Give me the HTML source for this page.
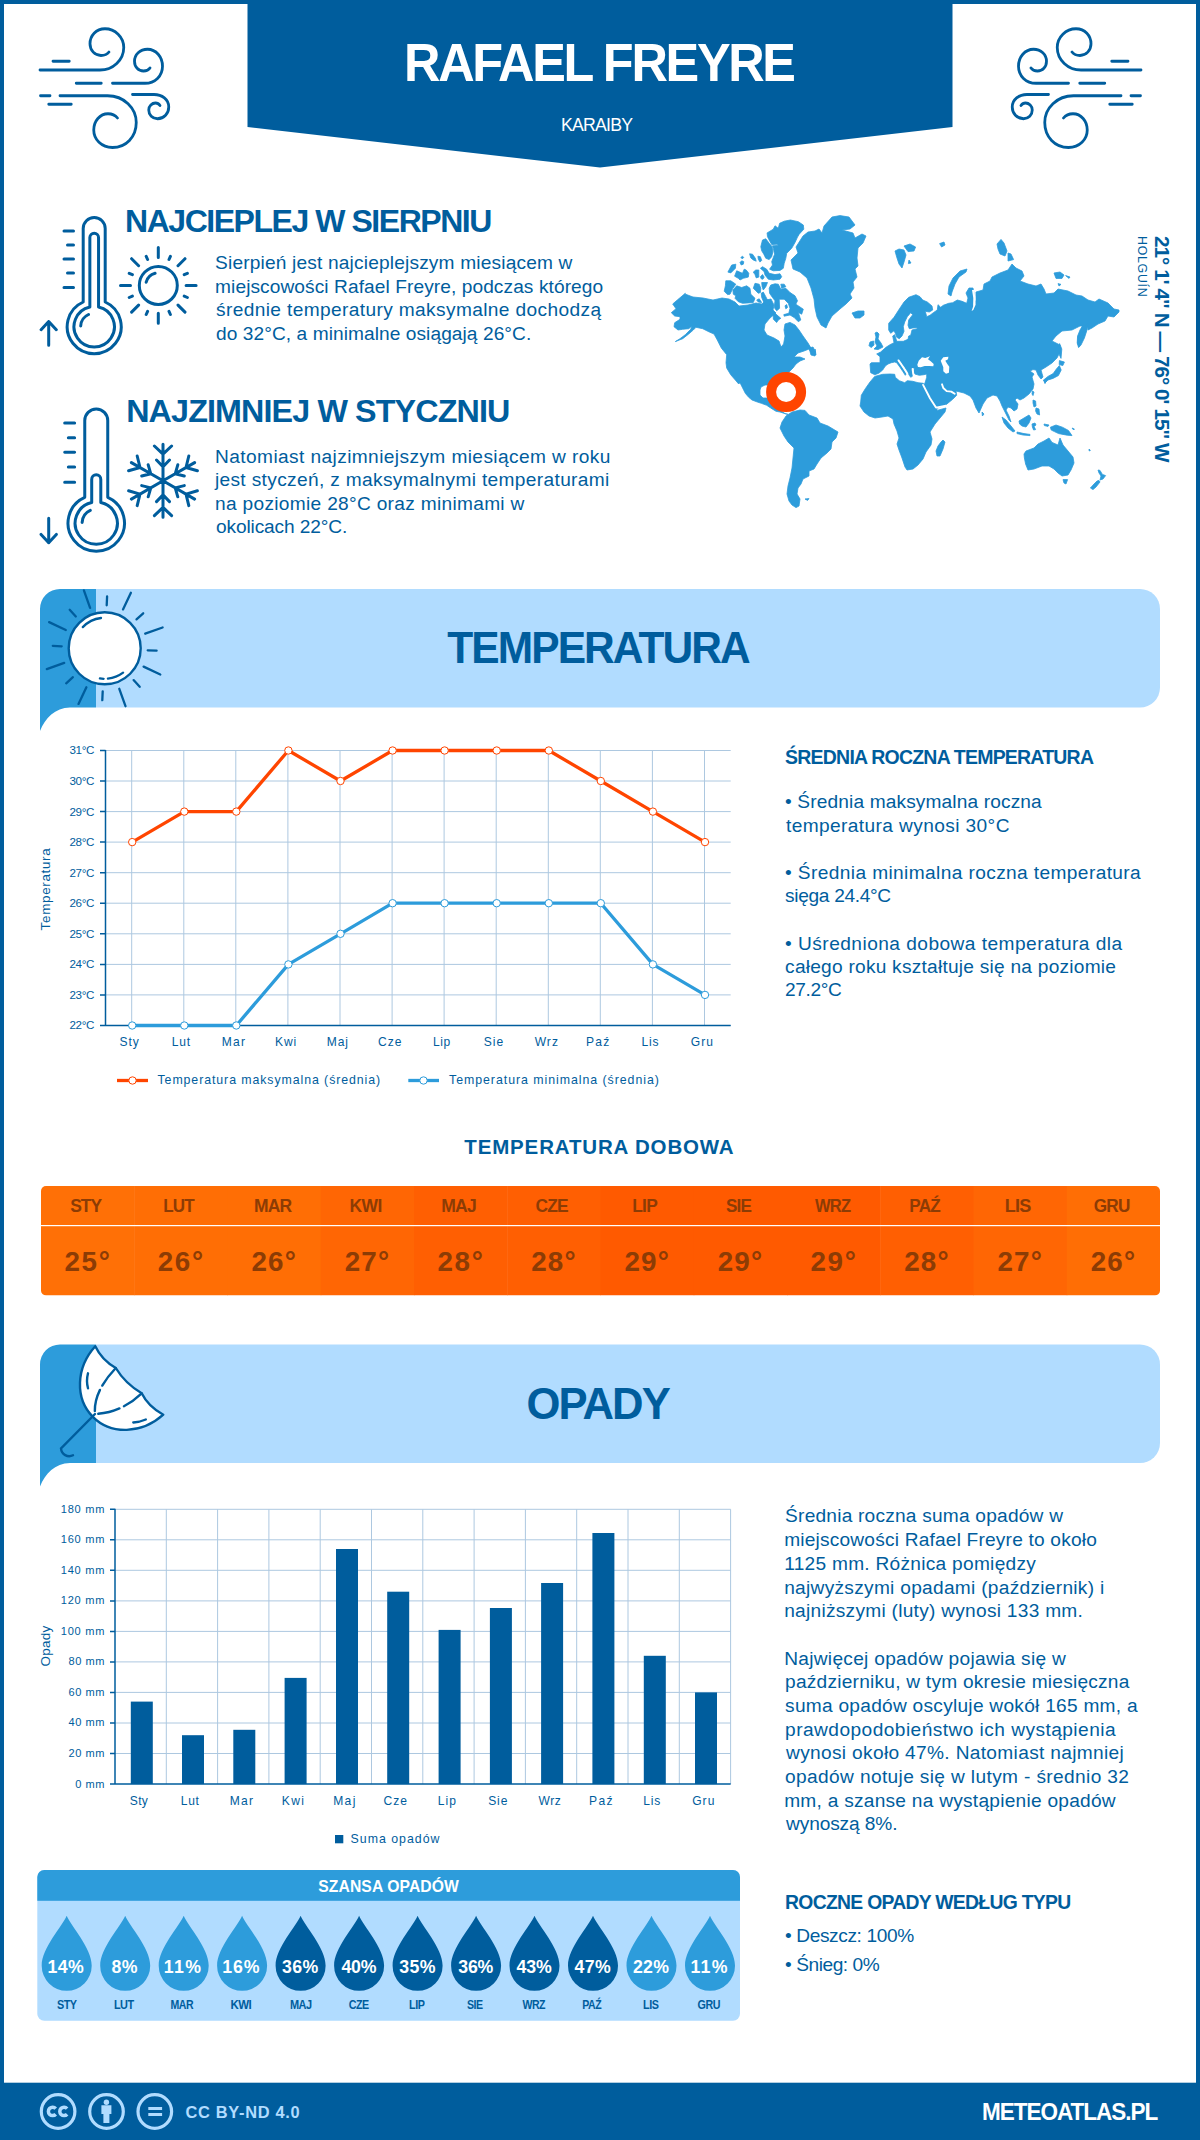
<!DOCTYPE html><html><head><meta charset="utf-8"><title>Rafael Freyre</title><style>
html,body{margin:0;padding:0;width:1200px;height:2140px;overflow:hidden}body{position:relative;background:#fff;font-family:"Liberation Sans",sans-serif}#pg{position:absolute;left:0;top:0;width:1200px;height:2140px;overflow:hidden}
#bd{position:absolute;left:0;top:0;width:1192px;height:2132px;border:4px solid #005d9d;z-index:5;pointer-events:none}
svg{position:absolute;left:0;top:0}
.t{position:absolute;white-space:nowrap;line-height:1;margin:0}
</style></head><body><div id="pg">
<svg width="1200" height="2140" viewBox="0 0 1200 2140">
<path fill="#005d9d" d="M247.5,0H952.5V127L600,167.5L247.5,127Z"/>
<path d="M40,70H100C113,70 123.75,60 123.75,47.5C123.75,37 115,28.75 105,28.75C96,28.75 90,35.5 90,43.75C90,50.5 95,55.5 101,55.5C104.5,55.5 107.5,54 109,52M53,61.25H69.25M112.5,83.25H145C155,83.25 162.5,76 162.5,66.25C162.5,57 156,49.25 147.5,49.25C140,49.25 134.5,54.5 134.5,61.25C134.5,67 138.5,71 143.5,71C146.5,71 149,69.5 150,68M76.25,83.25H101.25M40.5,95.75H50M60,95.75H107.5C124,95.75 136.25,108 136.25,122.5C136.25,137 126,147.5 112.5,147.5C101.5,147.5 93.75,139.5 93.75,130C93.75,121 100,113.75 108,113.75C112,113.75 115.5,115.5 117.5,118M48.75,104.25H71.25M132.5,94.5H154C162,94.5 168.75,99.5 168.75,107C168.75,113.5 164,118.75 157.5,118.75C152.5,118.75 148.75,115 148.75,110C148.75,106 152,103 155.5,103C157.5,103 159,104 160,105.5" fill="none" stroke="#005d9d" stroke-width="2.8" stroke-linecap="round"/>
<path d="M40,70H100C113,70 123.75,60 123.75,47.5C123.75,37 115,28.75 105,28.75C96,28.75 90,35.5 90,43.75C90,50.5 95,55.5 101,55.5C104.5,55.5 107.5,54 109,52M53,61.25H69.25M112.5,83.25H145C155,83.25 162.5,76 162.5,66.25C162.5,57 156,49.25 147.5,49.25C140,49.25 134.5,54.5 134.5,61.25C134.5,67 138.5,71 143.5,71C146.5,71 149,69.5 150,68M76.25,83.25H101.25M40.5,95.75H50M60,95.75H107.5C124,95.75 136.25,108 136.25,122.5C136.25,137 126,147.5 112.5,147.5C101.5,147.5 93.75,139.5 93.75,130C93.75,121 100,113.75 108,113.75C112,113.75 115.5,115.5 117.5,118M48.75,104.25H71.25M132.5,94.5H154C162,94.5 168.75,99.5 168.75,107C168.75,113.5 164,118.75 157.5,118.75C152.5,118.75 148.75,115 148.75,110C148.75,106 152,103 155.5,103C157.5,103 159,104 160,105.5" fill="none" stroke="#005d9d" stroke-width="2.8" stroke-linecap="round" transform="translate(1181,0) scale(-1,1)"/>
<path d="M-11,84.5V11A11,11 0 0 1 11,11V84.5A27,27 0 1 1 -11,84.5ZM-4.35,89.5V20.049999999999997A4.35,4.35 0 0 1 4.35,20.049999999999997V89.5A20.2,20.2 0 1 1 -4.35,89.5ZM-13.5,108.5A13.5,13.5 0 0 1 -5.7,97.0M-30.2,13.5H-20.7M-26.7,27.5H-20.7M-30.2,41.5H-20.7M-26.7,55.5H-20.7M-30.2,70H-20.7M-45.5,127.7V104M-53.1,112.2L-45.5,104L-37.9,112.2" fill="none" stroke="#005d9d" stroke-width="3.00" stroke-linecap="round" stroke-linejoin="round" transform="translate(94.2,217.5) scale(1.0)"/>
<path d="M-11,84.5V11A11,11 0 0 1 11,11V84.5A27,27 0 1 1 -11,84.5ZM-4.35,89.5V67.35A4.35,4.35 0 0 1 4.35,67.35V89.5A20.2,20.2 0 1 1 -4.35,89.5ZM-13.5,108.5A13.5,13.5 0 0 1 -5.7,97.0M-30.2,13.5H-20.7M-26.7,27.5H-20.7M-30.2,41.5H-20.7M-26.7,55.5H-20.7M-30.2,70H-20.7M-45.5,104.5V127.9M-52.8,120L-45.5,127.9L-38.2,120" fill="none" stroke="#005d9d" stroke-width="2.87" stroke-linecap="round" stroke-linejoin="round" transform="translate(96.25,409) scale(1.045)"/>
<path d="M139.3,285.4a19,19 0 1 0 38,0a19,19 0 1 0 -38,0M146.2,282.2A12.5,12.5 0 0 1 155.1,273.3M186.1,285.4L196.1,285.4M184.2,296.1L187.4,297.5M178.0,305.1L185.0,312.1M169.0,311.3L170.4,314.5M158.3,313.2L158.3,323.2M147.6,311.3L146.2,314.5M138.6,305.1L131.6,312.1M132.4,296.1L129.2,297.5M130.5,285.4L120.5,285.4M132.4,274.7L129.2,273.3M138.6,265.7L131.6,258.7M147.6,259.5L146.2,256.3M158.3,257.6L158.3,247.6M169.0,259.5L170.4,256.3M178.0,265.7L185.0,258.7M184.2,274.7L187.4,273.3" fill="none" stroke="#005d9d" stroke-width="3" stroke-linecap="round"/>
<path d="M163,480.8L163.0,444.3M154.4,446.0L163.0,454.2L171.6,446.0M156.5,460.0L163.0,466.7L169.5,460.0M163,480.8L194.6,462.6M188.8,456.0L186.0,467.5L197.4,470.8M177.8,464.8L175.2,473.8L184.3,476.0M163,480.8L194.6,499.1M197.4,490.8L186.0,494.1L188.8,505.6M184.3,485.6L175.2,487.9L177.8,496.8M163,480.8L163.0,517.3M171.6,515.6L163.0,507.4L154.4,515.6M169.5,501.6L163.0,494.9L156.5,501.6M163,480.8L131.4,499.1M137.2,505.6L140.0,494.1L128.6,490.8M148.2,496.8L150.8,487.9L141.7,485.6M163,480.8L131.4,462.6M128.6,470.8L140.0,467.5L137.2,456.0M141.7,476.0L150.8,473.8L148.2,464.8" fill="none" stroke="#005d9d" stroke-width="3" stroke-linecap="round" stroke-linejoin="round"/>
<path fill="#2d9cdb" stroke="#2d9cdb" stroke-width="0.8" stroke-linejoin="round" d="M685,294 693,297 703,298 713,300 722,298 729,299 735,302 739,306 748,305 756,303 762,304 766,300 771,299 774,305 773,310 776,313 770,318 765,324 764,330 767,335 774,338 779,341 781,347 783.6,344 785,336 784,330 785,324 790,322.4 795,325 799,330 803,336 808,343 811,348 815,353 815,349 816,355 812,354 809,349 804,351 798,353 794,357 800,357 805,359 800,361 796,364 793,368 789,372 786,375 784,379 785,385 788,390 789,395 787,394 784,388 781,385 776,384.4 770,385 765,385 761,387 760,390 760,395 763,398 767,398 770,396 773,397 772,401 773,405 777,408 781,411 785,413.6 788,414.4 784,413.3 780,412 776,411.3 770.7,408 766.7,405.3 761.3,403.3 757.3,402 752,400 748.7,397.3 745.3,393.3 740,382.7 738.7,384 735.3,380 730.7,374.7 726.7,368 726,362.7 726.7,354.7 721.3,348 717.3,340 714,334 709.3,332 702.7,328.7 696,327.3 693.3,330 688.7,334 682.7,338.7 675.3,341.6 680,338.7 685.3,334.7 690.7,329.3 692,326 688.7,328.7 682.7,329.3 678,330 674,326.7 674.7,322.7 680,319.3 680,316.7 674.7,316 671.3,312.7 676,308.7 672.7,304 677.3,300 685.3,293.3Z M767.1,232.9 773.3,229.2 775,225.8 778.3,228.3 779.6,223.3 784.2,221.2 790.4,220 798.3,221.7 803.3,225 803.8,229.2 799.2,234.2 797.5,237.1 795,242.5 791.7,248.3 786.7,253.3 785.8,258.3 784.2,263.3 783.3,268.3 780,270.4 773.3,270.8 769.6,269.2 772.5,265 771.7,261.7 774.6,254.2 773.3,248.3 772.5,245.8 778.3,245.4 777.1,244.2 771.7,244.6 769.2,240 767.5,236.7Z M760.8,246.7 762.5,240 765.8,238.8 769.2,243.3 772.1,246.7 772.9,251.7 771.7,256.7 769.2,259.6 765.8,258.3 763.8,254.2 761.7,250.8Z M760.4,268.3 762.5,266.7 766.7,269.2 769.2,273.3 775,274.6 780,273.8 781.7,276.7 780,279.2 773.3,280 768.3,279.2 765,275 764.2,271.7Z M769.2,288.3 770.8,285 775,283.8 778.3,284.2 780.8,289.2 785.8,288.3 790,292.5 795,295.8 797.5,300.8 795.8,304.2 803.3,309.2 801.7,314.2 798.3,312.5 800.8,320 798.3,321.7 794.2,317.5 790,315 784.2,316.2 783.8,314.6 788.8,313.3 790,308.3 788.3,303.3 784.2,299.2 779.2,299.2 779.6,308.3 776.7,310.8 774.2,307.5 775,300.8 772.5,297.5 769.6,293.3Z M780.8,284.2 784.2,284.2 785.8,286.7 781.7,288.3Z M732.9,290 736.7,285.8 741.7,287.5 746.7,285.8 750,288.3 750.8,294.2 755,298.3 753.3,302.5 748.3,302.9 742.5,303.3 738.3,301.7 735,298.3 735.8,295.8 733.3,294.2Z M725.8,280.8 730.8,280.8 735.8,284.2 732.9,288.3 730,294.2 727.5,294.6 724.2,291.2 725.4,285.8Z M734.6,276.2 736.7,270.8 742.5,273.3 744.2,269.2 746.2,270 748.8,273.3 748.3,277.1 743.3,278.3 740,280 738.3,278.3Z M727.9,272.1 731.7,265 735.8,264.2 735.4,268.3 730.8,272.9Z M740,262.5 741.7,260.8 743.8,261.7 743.3,264.2 741.2,265Z M740.8,257.5 742.5,256.2 743.8,257.5 742.1,258.8Z M753.3,272.1 755.8,270 758.8,270 758.8,277.1 756.2,277.9 755,274.6Z M760.4,276.7 762.5,274.6 764.2,277.1 762.9,279.2 761.2,278.8Z M749.6,253.8 752.5,254.2 755.4,258.3 756.2,261.2 753.3,260 750.8,257.9Z M757.9,256.2 760.4,256.7 761.7,260.4 760,262.1 758.3,259.2Z M753.3,288.3 755,283.3 759.2,284.2 760.8,288.3 760.4,292.5 758.3,293.3 755.8,290.8Z M761.7,282.5 767.5,282.5 765.8,286.7 763.3,290 762.1,286.7Z M761.2,293.3 763.3,292.1 765.8,296.7 768.3,301.7 769.2,305 765,305 761.7,297.5Z M756.7,300 759.2,298.8 761.7,302.5 758.3,302.1Z M773.3,313.8 775,313.3 780.8,318.3 778.3,320 776.7,322.5 773.3,319.2Z M785,305.8 786.7,304.6 787.5,307.5 785.8,308.8Z M809,348 813,347 815.6,352 815,356 811,355Z M824,226 832,217 840,215.6 849,217 855,225 850,229 842,230 853,233 855,238 862,234 866,236 863,243 858,248 857,258 858,266 855,269 857,277 853,282 854,288 850,294 852,298 846,304 840,309 832,316 828,323 826,328 821,325 817,317 815,308 814,299 811,288 807,278 800,272 793,269 791,260 798,253 796,247 803,236 808,232 815,231 819,229 822,233Z M852,313 858,311 864,311 864,315 860,318 855,318Z M780,428 782,422 786,416 792,412 800,410 805,410.4 809,415 817,418 820,423 828,426 838,432 836,438 832,442 831,449 827,453 821,458 817,464 814,469 809,471 809,476 803,479 801,484 798,488 797,494 800,499 799,506 796,507.6 792,505 789,501 787,494 788,486 790,478 792,468 793,458 794,448 788,442 784,436Z M805,499 809,498.6 807.6,500.4Z M874.7,376.4 882.7,374.3 890,374 894.7,374.3 895.3,377.3 899.3,380.7 904.7,382.7 907.3,380.7 912.7,381.3 918,382.7 923.3,383.3 924.4,385.3 930,398.3 935.3,407.1 936.9,409.1 937,410.4 946,408 945,412 940,418 935,424 930,432 932,439 931,445 926,452 923,459 918,465 913,469 907,470 905,467 902,458 899,450 897,444 899,438 897,431 894,424 893,419 888,416 882,417 875,418 869,416 864,412 860,406 860.7,402 861.3,395.3 865.3,388.7 870,382Z M943,440 945,442 943,449 940,456 937,456 936,451 938,446 941,442Z M870.7,372.7 870,364 871.3,362.7 880,362.7 880,356.7 876.7,354 880.7,352 886,347.3 890,344.7 894,342.7 892.7,336 894.7,334.7 896,338.7 896.7,341.3 903.3,341.3 908,339.3 908.7,336 910.7,335.3 912,330 917.3,328.7 916.7,327.7 912.7,328 909.3,328.7 908,325.3 908.7,320 912.7,314.7 910.7,312.7 907.3,316.7 904.7,322 903.3,326.7 904,331.3 902,336 899.3,338.7 896.7,337.3 895.3,333.3 894,330.7 890.7,333.3 888.7,330 888.7,323.3 894,317.3 898.7,310 904,302 908.7,297.3 916,294.7 920,296.7 922.7,300 927.3,302 932,306 932.7,310 929.3,312 925.3,311.3 926.7,316.7 930,315.3 933.3,312.7 937.3,310 938,304.7 940.7,307.3 943.3,305.3 948.7,303.3 952.7,302.7 957.3,300 962,301.3 966.7,303.3 968,298 966,293 969,288 973,288 974,294 973,304 973,310 976,300 976,292 983,290 984,284 990,281 992,277 1000,273 1008,270 1012,264 1016,268 1022,271 1024,276 1020,281 1028,284 1036,286 1041,284 1044,289 1046,294 1054,293 1058,289 1068,291 1076,295 1082,296 1088,300 1095,302 1099,299 1108,303 1114,309 1119,310 1119,312 1114,317 1108,316 1105,321 1098,324 1092,328 1088,330 1087,323 1084,330 1081,337 1079,347 1077.6,343 1078,337 1081,331 1083,326 1080,326 1072,330 1062,331 1056,336 1052,341 1056,343 1060,345 1060,352 1057,358 1052,363 1046,367 1041,370 1043,377 1041,379 1038,375 1036,370 1033,369.6 1030,371 1034,374 1032,377 1034,384 1033,389 1029,394 1024,398 1020,400 1017,398 1015,400 1018,404 1017,409 1014,411 1011,408 1008,407 1006,410 1009,416 1011,422 1009,420 1005,412 1002,406 1000,401 997,396 993,395 987,398 983,404 979,413 976,408 973,400 970,396 964,393 956,391 956.7,395.3 952.7,399.3 946,404.7 936.7,408.4 935.3,406 930,398 924,385.3 925.3,382 926.7,377.3 926.7,374 924,374.7 919.3,375.3 914.7,374 913.3,370.7 914.7,368 911.3,368.7 912,372 912.7,376 910.7,377.3 909.3,375.3 907.3,371.3 904.7,367.3 901.3,362.7 898,359.3 898.7,361.3 902.7,366.7 904,370 906.7,373.3 905.3,375.3 902.7,371.3 900,367.3 896.7,362.7 894.7,362 891.3,362.7 888,364 885.3,366 882.7,370 878.7,373.3 874.7,374.7Z M877,332 879,334 878,339 881,343 883,347 878,349.6 874,349 877,346 875,342 876,337 875,333Z M870,342 873.6,341 874,345 871,347.6 869,345.6Z M948,294 949,286 953,278 960,271 967,269 966,272 959,277 955,284 952,292 951,296Z M895,251 899,249 904,250 906,255 904,262 902,268 899,264 897,258Z M904,246 910,244 915.6,247 914,251 908,251.6Z M909,260 911,263 908.4,263.6Z M939.6,243.6 944,242 945,245 941.6,247Z M997,244 1001,239.4 1004,243 1007,251 1005,256 1000,254 998,249Z M1008,253 1011,254 1013.6,259.6 1008,261Z M1054,273 1060,272 1064,275 1062,278.4 1056,278.4Z M1065.6,275.6 1070,277 1069,278.4Z M1058,283.6 1061,284.4 1059,286Z M982,412 984,414 982.4,416Z M1059.6,343.6 1061.8,349 1061,358.4 1059.2,354.4 1058.8,348Z M1088,322 1087,330 1084.4,338 1081,345 1078.6,347.6 1077.2,343 1077.6,336 1080,330 1083,325 1085.6,321.6Z M1059.4,360.6 1064.4,362 1062.8,365.6 1059.2,364.6Z M1059.4,365.6 1061.2,370 1058.4,375.6 1053,378.4 1048,380 1045.2,382.8 1043.6,380 1048,376.4 1053.2,373.6 1056.4,369Z M1043.6,380 1046,381 1045,383.6Z M1032.4,391 1034,392 1033,395.6 1032,394Z M1033,400 1035.6,401 1036,406 1034,407 1033,403Z M1036,408 1039,409 1039.6,415 1037,414 1035.6,411Z M1019,421 1024,418 1029,415 1031,418 1029,423 1026,427 1022,426 1019.6,424Z M1002,417 1006,420 1011,426 1015,431 1013,432 1008,428 1004,423Z M1017,432 1024,433.6 1030,434.4 1030,435.6 1023,435 1017,433.6Z M1032,424 1035,423 1036,425 1034,426.4 1035.6,429.6 1033.6,430 1032.4,427Z M1050.4,427.2 1056,425 1062.4,427.2 1068.4,430.4 1072,435.6 1067.2,435.2 1063,434.4 1058.6,433.6 1054.4,431.6 1051.2,430Z M1044,424 1049,425 1048,426.4 1044.4,425.6Z M1072,428 1074.4,429 1073.6,430Z M1089,449 1090.4,450.4 1089.2,451Z M1024,454 1026,451 1034,448 1038,444 1044,441 1049,438 1052,442.4 1058,445 1060,438 1063,445 1068,451 1073,457 1074,463 1071,470 1068,475 1062,476 1058,473 1054,469 1049,466 1042,466 1034,469 1028,470 1025.6,464 1024.4,458Z M1063,479.6 1067.6,479.6 1066,484 1064,483Z M1098,470 1100,470.4 1102.4,474.4 1105.6,475.6 1103,479 1100,480 1101,476 1099,473Z M1099,480.4 1100,482 1096,487 1093,489.6 1090.4,488 1094,484 1097,481Z"/>
<path fill="#fff" d="M917.3,364.7 918.7,360.7 922,357.3 925.3,358 928.7,356.7 930,356 928,359.3 930.7,361.3 933.7,364 933.3,366.3 929.3,366 924.7,366 920.7,367.3 918,367.1Z M940.7,360.7 943.3,357.3 948.4,356.7 948,359.3 945.3,360.7 947.3,364 949.3,366.7 948.9,372.7 946,373.7 943.3,371.3 943.3,367.3 942,364Z M974,290 975.3,296.7 975.6,304.7 973.3,310 971.6,311.1 973.3,306 973.3,298 972,290Z"/>
<path fill="none" stroke="#fff" stroke-width="1.9" stroke-linecap="round" stroke-linejoin="round" d="M923.1,384.9 930,398.3 936,407.6 946,405.7"/>
<path fill="none" stroke="#fff" stroke-width="1.9" stroke-linecap="round" stroke-linejoin="round" d="M942,384.3 943.3,388 946.7,391.1 951.3,391.6 954.7,393.7"/>
<path fill="none" stroke="#fff" stroke-width="1.9" stroke-linecap="round" stroke-linejoin="round" d="M898.5,360.4 901.5,364.7 904.7,369.6 907.3,373.7"/>
<path fill="none" stroke="#fff" stroke-width="1.9" stroke-linecap="round" stroke-linejoin="round" d="M912.7,368.9 913.1,372.7 914,376.9"/>
<circle cx="786.1" cy="392" r="15" fill="#fff" stroke="#ff4500" stroke-width="10"/>
<path fill="#b1dcff" d="M96,589H1140a20,20 0 0 1 20,20V687.5a20,20 0 0 1 -20,20H96Z"/>
<path fill="#2d9cdb" d="M40,609a20,20 0 0 1 20,-20H96V707.5H70C55,708.0 45,718.0 40,731.0Z"/>
<path fill="#b1dcff" d="M96,1344.5H1140a20,20 0 0 1 20,20V1443.0a20,20 0 0 1 -20,20H96Z"/>
<path fill="#2d9cdb" d="M40,1364.5a20,20 0 0 1 20,-20H96V1463.0H70C55,1463.5 45,1473.5 40,1486.5Z"/>
<circle cx="104.7" cy="648.3" r="36" fill="#fff" stroke="#005d9d" stroke-width="2.4"/><path d="M106.7,605.3L107.1,596.4M123.0,609.4L130.9,592.7M136.5,619.4L143.2,613.3M145.2,633.7L162.6,627.5M147.7,650.3L156.6,650.7M143.6,666.6L160.3,674.5M133.6,680.1L139.7,686.8M119.3,688.8L125.5,706.2M102.7,691.3L102.3,700.2M86.4,687.2L78.5,703.9M72.9,677.2L66.2,683.3M64.2,662.9L46.8,669.1M61.7,646.3L52.8,645.9M65.8,630.0L49.1,622.1M75.8,616.5L69.7,609.8M90.1,607.8L83.9,590.4M82.8,627.1A30.5,30.5 0 0 1 101.0,618.0M123.1,672.7A30.5,30.5 0 0 1 107.9,678.6M103.6,678.8A30.5,30.5 0 0 1 99.9,678.4" fill="none" stroke="#005d9d" stroke-width="2.3" stroke-linecap="round"/>
<path fill="#fff" stroke="#005d9d" stroke-width="2.4" stroke-linejoin="round" d="M95.3,1346.3A48.3,54.5 45 0 0 163.3,1414.7Q148.3,1406.7 141.7,1393.3Q125,1383.3 115.8,1368Q101.7,1360 95.3,1346.3Z"/><path fill="none" stroke="#005d9d" stroke-width="2.4" stroke-linecap="round" stroke-dasharray="22 5" d="M115.8,1368Q93,1392 95,1414M141.7,1393.3Q121,1413 95,1414"/><path fill="none" stroke="#005d9d" stroke-width="2.4" stroke-linecap="round" d="M88,1373.3Q86,1381 88,1388.3M133.3,1422.5Q140,1422 145.8,1419.5"/><path fill="none" stroke="#005d9d" stroke-width="2.4" stroke-linecap="round" d="M95,1414L61,1448.5A8.3,8.3 0 0 0 73,1455.3"/>
<path d="M131.7,750.5V1025.5M183.8,750.5V1025.5M235.8,750.5V1025.5M287.9,750.5V1025.5M340.0,750.5V1025.5M392.1,750.5V1025.5M444.1,750.5V1025.5M496.2,750.5V1025.5M548.3,750.5V1025.5M600.3,750.5V1025.5M652.4,750.5V1025.5M704.5,750.5V1025.5M105.5,1025.5H730.7M105.5,994.9H730.7M105.5,964.4H730.7M105.5,933.8H730.7M105.5,903.2H730.7M105.5,872.7H730.7M105.5,842.1H730.7M105.5,811.6H730.7M105.5,781.0H730.7M105.5,750.5H730.7" stroke="#adc8e0" stroke-width="1" fill="none"/>
<path d="M105.5,750.0V1025.5M100,1025.5H730.7M100,1025.5H105.5M100,994.9H105.5M100,964.4H105.5M100,933.8H105.5M100,903.2H105.5M100,872.7H105.5M100,842.1H105.5M100,811.6H105.5M100,781.0H105.5M100,750.5H105.5" stroke="#005d9d" stroke-width="1.5" fill="none"/>
<polyline points="132.2,842.1 184.3,811.6 236.3,811.6 288.4,750.5 340.5,781.0 392.6,750.5 444.6,750.5 496.7,750.5 548.8,750.5 600.8,781.0 652.9,811.6 705.0,842.1" fill="none" stroke="#ff4500" stroke-width="3.3" stroke-linejoin="round"/>
<circle cx="132.2" cy="842.1" r="3.7" fill="#fff" stroke="#ff4500" stroke-width="1"/>
<circle cx="184.3" cy="811.6" r="3.7" fill="#fff" stroke="#ff4500" stroke-width="1"/>
<circle cx="236.3" cy="811.6" r="3.7" fill="#fff" stroke="#ff4500" stroke-width="1"/>
<circle cx="288.4" cy="750.5" r="3.7" fill="#fff" stroke="#ff4500" stroke-width="1"/>
<circle cx="340.5" cy="781.0" r="3.7" fill="#fff" stroke="#ff4500" stroke-width="1"/>
<circle cx="392.6" cy="750.5" r="3.7" fill="#fff" stroke="#ff4500" stroke-width="1"/>
<circle cx="444.6" cy="750.5" r="3.7" fill="#fff" stroke="#ff4500" stroke-width="1"/>
<circle cx="496.7" cy="750.5" r="3.7" fill="#fff" stroke="#ff4500" stroke-width="1"/>
<circle cx="548.8" cy="750.5" r="3.7" fill="#fff" stroke="#ff4500" stroke-width="1"/>
<circle cx="600.8" cy="781.0" r="3.7" fill="#fff" stroke="#ff4500" stroke-width="1"/>
<circle cx="652.9" cy="811.6" r="3.7" fill="#fff" stroke="#ff4500" stroke-width="1"/>
<circle cx="705.0" cy="842.1" r="3.7" fill="#fff" stroke="#ff4500" stroke-width="1"/>
<polyline points="132.2,1025.5 184.3,1025.5 236.3,1025.5 288.4,964.4 340.5,933.8 392.6,903.2 444.6,903.2 496.7,903.2 548.8,903.2 600.8,903.2 652.9,964.4 705.0,994.9" fill="none" stroke="#2d9cdb" stroke-width="3.3" stroke-linejoin="round"/>
<circle cx="132.2" cy="1025.5" r="3.7" fill="#fff" stroke="#2d9cdb" stroke-width="1"/>
<circle cx="184.3" cy="1025.5" r="3.7" fill="#fff" stroke="#2d9cdb" stroke-width="1"/>
<circle cx="236.3" cy="1025.5" r="3.7" fill="#fff" stroke="#2d9cdb" stroke-width="1"/>
<circle cx="288.4" cy="964.4" r="3.7" fill="#fff" stroke="#2d9cdb" stroke-width="1"/>
<circle cx="340.5" cy="933.8" r="3.7" fill="#fff" stroke="#2d9cdb" stroke-width="1"/>
<circle cx="392.6" cy="903.2" r="3.7" fill="#fff" stroke="#2d9cdb" stroke-width="1"/>
<circle cx="444.6" cy="903.2" r="3.7" fill="#fff" stroke="#2d9cdb" stroke-width="1"/>
<circle cx="496.7" cy="903.2" r="3.7" fill="#fff" stroke="#2d9cdb" stroke-width="1"/>
<circle cx="548.8" cy="903.2" r="3.7" fill="#fff" stroke="#2d9cdb" stroke-width="1"/>
<circle cx="600.8" cy="903.2" r="3.7" fill="#fff" stroke="#2d9cdb" stroke-width="1"/>
<circle cx="652.9" cy="964.4" r="3.7" fill="#fff" stroke="#2d9cdb" stroke-width="1"/>
<circle cx="705.0" cy="994.9" r="3.7" fill="#fff" stroke="#2d9cdb" stroke-width="1"/>
<path d="M117,1080.5H148" stroke="#ff4500" stroke-width="3.3"/><circle cx="132.5" cy="1080.5" r="3.7" fill="#fff" stroke="#ff4500"/>
<path d="M408.3,1080.5H439" stroke="#2d9cdb" stroke-width="3.3"/><circle cx="423.5" cy="1080.5" r="3.7" fill="#fff" stroke="#2d9cdb"/>
<clipPath id="tc"><rect x="41" y="1186" width="1119" height="109.5" rx="5"/></clipPath>
<g clip-path="url(#tc)"><rect x="41.00" y="1186" width="93.75" height="109.5" fill="#ff7006"/><rect x="134.25" y="1186" width="93.75" height="109.5" fill="#ff6e05"/><rect x="227.50" y="1186" width="93.75" height="109.5" fill="#ff6e05"/><rect x="320.75" y="1186" width="93.75" height="109.5" fill="#ff6604"/><rect x="414.00" y="1186" width="93.75" height="109.5" fill="#ff5f02"/><rect x="507.25" y="1186" width="93.75" height="109.5" fill="#ff5f02"/><rect x="600.50" y="1186" width="93.75" height="109.5" fill="#ff5a00"/><rect x="693.75" y="1186" width="93.75" height="109.5" fill="#ff5a00"/><rect x="787.00" y="1186" width="93.75" height="109.5" fill="#ff5a00"/><rect x="880.25" y="1186" width="93.75" height="109.5" fill="#ff5f02"/><rect x="973.50" y="1186" width="93.75" height="109.5" fill="#ff6604"/><rect x="1066.75" y="1186" width="93.75" height="109.5" fill="#ff6e05"/><rect x="41" y="1225" width="1119" height="1.2" fill="#fff"/></g>
<path d="M166.3,1509.3V1784.0M217.6,1509.3V1784.0M268.9,1509.3V1784.0M320.2,1509.3V1784.0M371.5,1509.3V1784.0M422.8,1509.3V1784.0M474.1,1509.3V1784.0M525.4,1509.3V1784.0M576.7,1509.3V1784.0M628.0,1509.3V1784.0M679.3,1509.3V1784.0M730.6,1509.3V1784.0M115.0,1753.5H730.7M115.0,1723.0H730.7M115.0,1692.4H730.7M115.0,1661.9H730.7M115.0,1631.4H730.7M115.0,1600.9H730.7M115.0,1570.3H730.7M115.0,1539.8H730.7M115.0,1509.3H730.7" stroke="#adc8e0" stroke-width="1" fill="none"/>
<rect x="130.8" y="1701.6" width="22" height="82.4" fill="#005d9d"/>
<rect x="182.0" y="1735.2" width="22" height="48.8" fill="#005d9d"/>
<rect x="233.3" y="1729.8" width="22" height="54.2" fill="#005d9d"/>
<rect x="284.6" y="1677.9" width="22" height="106.1" fill="#005d9d"/>
<rect x="336.0" y="1549.0" width="22" height="235.0" fill="#005d9d"/>
<rect x="387.2" y="1591.7" width="22" height="192.3" fill="#005d9d"/>
<rect x="438.6" y="1629.9" width="22" height="154.1" fill="#005d9d"/>
<rect x="489.9" y="1608.0" width="22" height="176.0" fill="#005d9d"/>
<rect x="541.1" y="1583.0" width="22" height="201.0" fill="#005d9d"/>
<rect x="592.4" y="1533.0" width="22" height="251.0" fill="#005d9d"/>
<rect x="643.8" y="1655.8" width="22" height="128.2" fill="#005d9d"/>
<rect x="695.0" y="1692.4" width="22" height="91.6" fill="#005d9d"/>
<path d="M115.0,1508.8V1784.0M110,1784.0H730.7M110,1784.0H115.0M110,1753.5H115.0M110,1723.0H115.0M110,1692.4H115.0M110,1661.9H115.0M110,1631.4H115.0M110,1600.9H115.0M110,1570.3H115.0M110,1539.8H115.0M110,1509.3H115.0" stroke="#005d9d" stroke-width="1.5" fill="none"/>
<rect x="335" y="1835" width="8.3" height="8.3" fill="#005d9d"/>
<clipPath id="rc"><rect x="37.3" y="1870" width="702.7" height="150.8" rx="7"/></clipPath>
<g clip-path="url(#rc)"><rect x="37" y="1870" width="704" height="151" fill="#b1dcff"/><rect x="37" y="1870" width="704" height="30.8" fill="#2d9cdb"/></g>
<path fill="#2d9cdb" transform="translate(66.7,1965.8)" d="M0,-50C4,-40 25,-18 25,0A25,25 0 0 1 -25,0C-25,-18 -4,-40 0,-50Z"/>
<path fill="#2d9cdb" transform="translate(125.2,1965.8)" d="M0,-50C4,-40 25,-18 25,0A25,25 0 0 1 -25,0C-25,-18 -4,-40 0,-50Z"/>
<path fill="#2d9cdb" transform="translate(183.7,1965.8)" d="M0,-50C4,-40 25,-18 25,0A25,25 0 0 1 -25,0C-25,-18 -4,-40 0,-50Z"/>
<path fill="#2d9cdb" transform="translate(242.1,1965.8)" d="M0,-50C4,-40 25,-18 25,0A25,25 0 0 1 -25,0C-25,-18 -4,-40 0,-50Z"/>
<path fill="#005d9d" transform="translate(300.6,1965.8)" d="M0,-50C4,-40 25,-18 25,0A25,25 0 0 1 -25,0C-25,-18 -4,-40 0,-50Z"/>
<path fill="#005d9d" transform="translate(359.1,1965.8)" d="M0,-50C4,-40 25,-18 25,0A25,25 0 0 1 -25,0C-25,-18 -4,-40 0,-50Z"/>
<path fill="#005d9d" transform="translate(417.6,1965.8)" d="M0,-50C4,-40 25,-18 25,0A25,25 0 0 1 -25,0C-25,-18 -4,-40 0,-50Z"/>
<path fill="#005d9d" transform="translate(476.1,1965.8)" d="M0,-50C4,-40 25,-18 25,0A25,25 0 0 1 -25,0C-25,-18 -4,-40 0,-50Z"/>
<path fill="#005d9d" transform="translate(534.5,1965.8)" d="M0,-50C4,-40 25,-18 25,0A25,25 0 0 1 -25,0C-25,-18 -4,-40 0,-50Z"/>
<path fill="#005d9d" transform="translate(593.0,1965.8)" d="M0,-50C4,-40 25,-18 25,0A25,25 0 0 1 -25,0C-25,-18 -4,-40 0,-50Z"/>
<path fill="#2d9cdb" transform="translate(651.5,1965.8)" d="M0,-50C4,-40 25,-18 25,0A25,25 0 0 1 -25,0C-25,-18 -4,-40 0,-50Z"/>
<path fill="#2d9cdb" transform="translate(710.0,1965.8)" d="M0,-50C4,-40 25,-18 25,0A25,25 0 0 1 -25,0C-25,-18 -4,-40 0,-50Z"/>
<rect x="0" y="2082.7" width="1200" height="57.3" fill="#005d9d"/>
<circle cx="58.1" cy="2111.5" r="16.8" fill="none" stroke="#b1dcff" stroke-width="3.2"/><circle cx="106.5" cy="2111.5" r="16.8" fill="none" stroke="#b1dcff" stroke-width="3.2"/><circle cx="154.8" cy="2111.5" r="16.8" fill="none" stroke="#b1dcff" stroke-width="3.2"/><path fill="none" stroke="#b1dcff" stroke-width="3.5" d="M55.72,2108.59A4.2,4.2 0 1 0 55.72,2114.21M67.12,2108.59A4.2,4.2 0 1 0 67.12,2114.21"/><circle cx="106.4" cy="2102.2" r="2.7" fill="#b1dcff"/><path fill="#b1dcff" d="M101.4,2105.3h10v8.6h-2v9.2h-6v-9.2h-2z"/><path fill="#b1dcff" d="M148.3,2107h13.8v3.1h-13.8zM148.3,2113h13.8v3.1h-13.8z"/>
</svg>
<div class="t" id="t0" style="font-size:53.92px;color:#fff;font-weight:700;letter-spacing:-2.427px;left:300.3px;width:600px;text-align:center;top:36.0px;text-indent:-2.427px;transform:scaleX(0.9352);">RAFAEL FREYRE</div>
<div class="t" id="t1" style="font-size:18.31px;color:#fff;letter-spacing:-0.824px;left:297.1px;width:600px;text-align:center;top:116.0px;text-indent:-0.824px;transform:scaleX(0.9681);">KARAIBY</div>
<div class="t" id="t2" style="font-size:32.27px;color:#005d9d;font-weight:700;letter-spacing:-1.452px;left:125.3px;top:205.0px;transform-origin:0 0;transform:scaleX(0.9909);">NAJCIEPLEJ W SIERPNIU</div>
<div class="t" id="t3" style="font-size:32.27px;color:#005d9d;font-weight:700;letter-spacing:-0.869px;left:126.2px;top:395.0px;">NAJZIMNIEJ W STYCZNIU</div>
<div class="t" id="t4" style="font-size:19.11px;color:#005d9d;letter-spacing:0.174px;left:215.1px;top:253.0px;">Sierpień jest najcieplejszym miesiącem w</div>
<div class="t" id="t5" style="font-size:19.11px;color:#005d9d;letter-spacing:0.085px;left:215.1px;top:277.0px;">miejscowości Rafael Freyre, podczas którego</div>
<div class="t" id="t6" style="font-size:19.11px;color:#005d9d;letter-spacing:0.378px;left:216.0px;top:300.0px;">średnie temperatury maksymalne dochodzą</div>
<div class="t" id="t7" style="font-size:19.11px;color:#005d9d;letter-spacing:0.075px;left:216.0px;top:324.0px;">do 32°C, a minimalne osiągają 26°C.</div>
<div class="t" id="t8" style="font-size:19.11px;color:#005d9d;letter-spacing:0.404px;left:215.1px;top:447.0px;">Natomiast najzimniejszym miesiącem w roku</div>
<div class="t" id="t9" style="font-size:19.11px;color:#005d9d;letter-spacing:0.348px;left:214.9px;top:470.0px;">jest styczeń, z maksymalnymi temperaturami</div>
<div class="t" id="t10" style="font-size:19.11px;color:#005d9d;letter-spacing:0.308px;left:215.1px;top:494.0px;">na poziomie 28°C oraz minimami w</div>
<div class="t" id="t11" style="font-size:19.11px;color:#005d9d;letter-spacing:-0.124px;left:216.0px;top:517.0px;">okolicach 22°C.</div>
<div class="t" id="t12" style="font-size:20.78px;color:#005d9d;font-weight:700;letter-spacing:-0.935px;left:1154.4px;top:235.5px;transform-origin:0 0;transform:rotate(90deg) translate(0,-17.59px) scaleX(0.9925);">21° 1' 4" N — 76° 0' 15" W</div>
<div class="t" id="t13" style="font-size:12.35px;color:#005d9d;letter-spacing:0.738px;left:1138.0px;top:236.1px;transform-origin:0 0;transform:rotate(90deg) translate(0,-10.46px);">HOLGUÍN</div>
<div class="t" id="t14" style="font-size:43.60px;color:#005d9d;font-weight:700;letter-spacing:-1.962px;left:298.5px;width:600px;text-align:center;top:627.0px;text-indent:-1.962px;transform:scaleX(0.9744);">TEMPERATURA</div>
<div class="t" id="t15" style="font-size:43.60px;color:#005d9d;font-weight:700;letter-spacing:-1.849px;left:298.6px;width:600px;text-align:center;top:1383.0px;text-indent:-1.849px;">OPADY</div>
<div class="t" id="t16" style="font-size:11.63px;color:#005d9d;letter-spacing:-0.315px;left:-505.5px;width:600px;text-align:right;top:1019.0px;margin-left:-0.315px;">22°C</div>
<div class="t" id="t17" style="font-size:11.63px;color:#005d9d;letter-spacing:-0.315px;left:-505.5px;width:600px;text-align:right;top:989.0px;margin-left:-0.315px;">23°C</div>
<div class="t" id="t18" style="font-size:11.63px;color:#005d9d;letter-spacing:-0.315px;left:-505.5px;width:600px;text-align:right;top:958.0px;margin-left:-0.315px;">24°C</div>
<div class="t" id="t19" style="font-size:11.63px;color:#005d9d;letter-spacing:-0.315px;left:-505.5px;width:600px;text-align:right;top:928.0px;margin-left:-0.315px;">25°C</div>
<div class="t" id="t20" style="font-size:11.63px;color:#005d9d;letter-spacing:-0.315px;left:-505.5px;width:600px;text-align:right;top:897.0px;margin-left:-0.315px;">26°C</div>
<div class="t" id="t21" style="font-size:11.63px;color:#005d9d;letter-spacing:-0.315px;left:-505.5px;width:600px;text-align:right;top:867.0px;margin-left:-0.315px;">27°C</div>
<div class="t" id="t22" style="font-size:11.63px;color:#005d9d;letter-spacing:-0.315px;left:-505.5px;width:600px;text-align:right;top:836.0px;margin-left:-0.315px;">28°C</div>
<div class="t" id="t23" style="font-size:11.63px;color:#005d9d;letter-spacing:-0.315px;left:-505.5px;width:600px;text-align:right;top:806.0px;margin-left:-0.315px;">29°C</div>
<div class="t" id="t24" style="font-size:11.63px;color:#005d9d;letter-spacing:-0.315px;left:-505.5px;width:600px;text-align:right;top:775.0px;margin-left:-0.315px;">30°C</div>
<div class="t" id="t25" style="font-size:11.63px;color:#005d9d;letter-spacing:-0.315px;left:-505.5px;width:600px;text-align:right;top:744.0px;margin-left:-0.315px;">31°C</div>
<div class="t" id="t26" style="font-size:12.06px;color:#005d9d;letter-spacing:0.890px;left:-170.9px;width:600px;text-align:center;top:1036.0px;text-indent:0.890px;">Sty</div>
<div class="t" id="t27" style="font-size:12.06px;color:#005d9d;letter-spacing:0.735px;left:-119.1px;width:600px;text-align:center;top:1036.0px;text-indent:0.735px;">Lut</div>
<div class="t" id="t28" style="font-size:12.06px;color:#005d9d;letter-spacing:1.275px;left:-66.7px;width:600px;text-align:center;top:1036.0px;text-indent:1.275px;">Mar</div>
<div class="t" id="t29" style="font-size:12.06px;color:#005d9d;letter-spacing:0.937px;left:-14.4px;width:600px;text-align:center;top:1036.0px;text-indent:0.937px;">Kwi</div>
<div class="t" id="t30" style="font-size:12.06px;color:#005d9d;letter-spacing:0.937px;left:37.4px;width:600px;text-align:center;top:1036.0px;text-indent:0.937px;">Maj</div>
<div class="t" id="t31" style="font-size:12.06px;color:#005d9d;letter-spacing:0.985px;left:89.8px;width:600px;text-align:center;top:1036.0px;text-indent:0.985px;">Cze</div>
<div class="t" id="t32" style="font-size:12.06px;color:#005d9d;letter-spacing:0.553px;left:141.6px;width:600px;text-align:center;top:1036.0px;text-indent:0.553px;">Lip</div>
<div class="t" id="t33" style="font-size:12.06px;color:#005d9d;letter-spacing:0.917px;left:193.5px;width:600px;text-align:center;top:1036.0px;text-indent:0.917px;">Sie</div>
<div class="t" id="t34" style="font-size:12.06px;color:#005d9d;letter-spacing:1.072px;left:246.3px;width:600px;text-align:center;top:1036.0px;text-indent:1.072px;">Wrz</div>
<div class="t" id="t35" style="font-size:12.06px;color:#005d9d;letter-spacing:1.302px;left:297.7px;width:600px;text-align:center;top:1036.0px;text-indent:1.302px;">Paź</div>
<div class="t" id="t36" style="font-size:12.06px;color:#005d9d;letter-spacing:0.870px;left:350.0px;width:600px;text-align:center;top:1036.0px;text-indent:0.870px;">Lis</div>
<div class="t" id="t37" style="font-size:12.06px;color:#005d9d;letter-spacing:1.120px;left:401.9px;width:600px;text-align:center;top:1036.0px;text-indent:1.120px;">Gru</div>
<div class="t" id="t38" style="font-size:13.44px;color:#005d9d;letter-spacing:0.670px;left:50.1px;top:888.5px;transform-origin:0 0;transform:rotate(-90deg) translate(-50%,-11.38px);">Temperatura</div>
<div class="t" id="t39" style="font-size:12.35px;color:#005d9d;letter-spacing:0.920px;left:157.5px;top:1074.0px;">Temperatura maksymalna (średnia)</div>
<div class="t" id="t40" style="font-size:12.35px;color:#005d9d;letter-spacing:0.959px;left:449.0px;top:1074.0px;">Temperatura minimalna (średnia)</div>
<div class="t" id="t41" style="font-size:19.48px;color:#005d9d;font-weight:700;letter-spacing:-0.768px;left:785.1px;top:748.0px;">ŚREDNIA ROCZNA TEMPERATURA</div>
<div class="t" id="t42" style="font-size:19.11px;color:#005d9d;letter-spacing:0.136px;left:785.1px;top:792.0px;">• Średnia maksymalna roczna</div>
<div class="t" id="t43" style="font-size:19.11px;color:#005d9d;letter-spacing:0.395px;left:786.0px;top:816.0px;">temperatura wynosi 30°C</div>
<div class="t" id="t44" style="font-size:19.11px;color:#005d9d;letter-spacing:0.389px;left:785.1px;top:863.0px;">• Średnia minimalna roczna temperatura</div>
<div class="t" id="t45" style="font-size:19.11px;color:#005d9d;letter-spacing:-0.326px;left:785.1px;top:886.0px;">sięga 24.4°C</div>
<div class="t" id="t46" style="font-size:19.11px;color:#005d9d;letter-spacing:0.468px;left:785.1px;top:934.0px;">• Uśredniona dobowa temperatura dla</div>
<div class="t" id="t47" style="font-size:19.11px;color:#005d9d;letter-spacing:0.243px;left:785.1px;top:957.0px;">całego roku kształtuje się na poziomie</div>
<div class="t" id="t48" style="font-size:19.11px;color:#005d9d;letter-spacing:-0.398px;left:785.1px;top:980.0px;">27.2°C</div>
<div class="t" id="t49" style="font-size:20.49px;color:#005d9d;font-weight:700;letter-spacing:0.848px;left:299.0px;width:600px;text-align:center;top:1137.0px;text-indent:0.848px;">TEMPERATURA DOBOWA</div>
<div class="t" id="t50" style="font-size:17.44px;color:#8c3c05;font-weight:700;letter-spacing:-1.111px;left:-213.8px;width:600px;text-align:center;top:1198.0px;text-indent:-1.111px;">STY</div>
<div class="t" id="t51" style="font-size:27.76px;color:#8c3c05;font-weight:700;letter-spacing:1.680px;left:-212.9px;width:600px;text-align:center;top:1248.0px;text-indent:1.680px;">25°</div>
<div class="t" id="t52" style="font-size:17.44px;color:#8c3c05;font-weight:700;letter-spacing:-0.785px;left:-121.5px;width:600px;text-align:center;top:1198.0px;text-indent:-0.785px;transform:scaleX(0.9754);">LUT</div>
<div class="t" id="t53" style="font-size:27.76px;color:#8c3c05;font-weight:700;letter-spacing:1.680px;left:-119.6px;width:600px;text-align:center;top:1248.0px;text-indent:1.680px;">26°</div>
<div class="t" id="t54" style="font-size:17.44px;color:#8c3c05;font-weight:700;letter-spacing:-0.785px;left:-27.3px;width:600px;text-align:center;top:1198.0px;text-indent:-0.785px;transform:scaleX(1.0022);">MAR</div>
<div class="t" id="t55" style="font-size:27.76px;color:#8c3c05;font-weight:700;letter-spacing:1.180px;left:-26.4px;width:600px;text-align:center;top:1248.0px;text-indent:1.180px;">26°</div>
<div class="t" id="t56" style="font-size:17.44px;color:#8c3c05;font-weight:700;letter-spacing:-0.618px;left:65.9px;width:600px;text-align:center;top:1198.0px;text-indent:-0.618px;">KWI</div>
<div class="t" id="t57" style="font-size:27.76px;color:#8c3c05;font-weight:700;letter-spacing:1.180px;left:66.9px;width:600px;text-align:center;top:1248.0px;text-indent:1.180px;">27°</div>
<div class="t" id="t58" style="font-size:17.44px;color:#8c3c05;font-weight:700;letter-spacing:-0.785px;left:159.2px;width:600px;text-align:center;top:1198.0px;text-indent:-0.785px;transform:scaleX(1.0063);">MAJ</div>
<div class="t" id="t59" style="font-size:27.76px;color:#8c3c05;font-weight:700;letter-spacing:1.680px;left:160.1px;width:600px;text-align:center;top:1248.0px;text-indent:1.680px;">28°</div>
<div class="t" id="t60" style="font-size:17.44px;color:#8c3c05;font-weight:700;letter-spacing:-0.785px;left:252.0px;width:600px;text-align:center;top:1198.0px;text-indent:-0.785px;transform:scaleX(0.9960);">CZE</div>
<div class="t" id="t61" style="font-size:27.76px;color:#8c3c05;font-weight:700;letter-spacing:1.180px;left:253.4px;width:600px;text-align:center;top:1248.0px;text-indent:1.180px;">28°</div>
<div class="t" id="t62" style="font-size:17.44px;color:#8c3c05;font-weight:700;letter-spacing:-0.785px;left:345.2px;width:600px;text-align:center;top:1198.0px;text-indent:-0.785px;transform:scaleX(0.9939);">LIP</div>
<div class="t" id="t63" style="font-size:27.76px;color:#8c3c05;font-weight:700;letter-spacing:1.180px;left:346.6px;width:600px;text-align:center;top:1248.0px;text-indent:1.180px;">29°</div>
<div class="t" id="t64" style="font-size:17.44px;color:#8c3c05;font-weight:700;letter-spacing:-0.785px;left:438.5px;width:600px;text-align:center;top:1198.0px;text-indent:-0.785px;transform:scaleX(0.9781);">SIE</div>
<div class="t" id="t65" style="font-size:27.76px;color:#8c3c05;font-weight:700;letter-spacing:1.180px;left:439.9px;width:600px;text-align:center;top:1248.0px;text-indent:1.180px;">29°</div>
<div class="t" id="t66" style="font-size:17.44px;color:#8c3c05;font-weight:700;letter-spacing:-0.785px;left:532.6px;width:600px;text-align:center;top:1198.0px;text-indent:-0.785px;transform:scaleX(0.9462);">WRZ</div>
<div class="t" id="t67" style="font-size:27.76px;color:#8c3c05;font-weight:700;letter-spacing:1.680px;left:533.1px;width:600px;text-align:center;top:1248.0px;text-indent:1.680px;">29°</div>
<div class="t" id="t68" style="font-size:17.44px;color:#8c3c05;font-weight:700;letter-spacing:-0.785px;left:625.0px;width:600px;text-align:center;top:1198.0px;text-indent:-0.785px;transform:scaleX(0.9797);">PAŹ</div>
<div class="t" id="t69" style="font-size:27.76px;color:#8c3c05;font-weight:700;letter-spacing:1.180px;left:626.4px;width:600px;text-align:center;top:1248.0px;text-indent:1.180px;">28°</div>
<div class="t" id="t70" style="font-size:17.44px;color:#8c3c05;font-weight:700;letter-spacing:-0.785px;left:718.2px;width:600px;text-align:center;top:1198.0px;text-indent:-0.785px;transform:scaleX(1.0371);">LIS</div>
<div class="t" id="t71" style="font-size:27.76px;color:#8c3c05;font-weight:700;letter-spacing:1.180px;left:719.6px;width:600px;text-align:center;top:1248.0px;text-indent:1.180px;">27°</div>
<div class="t" id="t72" style="font-size:17.44px;color:#8c3c05;font-weight:700;letter-spacing:-0.785px;left:811.9px;width:600px;text-align:center;top:1198.0px;text-indent:-0.785px;transform:scaleX(0.9839);">GRU</div>
<div class="t" id="t73" style="font-size:27.76px;color:#8c3c05;font-weight:700;letter-spacing:1.180px;left:812.9px;width:600px;text-align:center;top:1248.0px;text-indent:1.180px;">26°</div>
<div class="t" id="t74" style="font-size:11.05px;color:#005d9d;letter-spacing:0.513px;left:-495.5px;width:600px;text-align:right;top:1779.0px;margin-left:0.513px;">0 mm</div>
<div class="t" id="t75" style="font-size:11.05px;color:#005d9d;letter-spacing:0.543px;left:-495.5px;width:600px;text-align:right;top:1748.0px;margin-left:0.543px;">20 mm</div>
<div class="t" id="t76" style="font-size:11.05px;color:#005d9d;letter-spacing:0.543px;left:-495.5px;width:600px;text-align:right;top:1717.0px;margin-left:0.543px;">40 mm</div>
<div class="t" id="t77" style="font-size:11.05px;color:#005d9d;letter-spacing:0.543px;left:-495.5px;width:600px;text-align:right;top:1687.0px;margin-left:0.543px;">60 mm</div>
<div class="t" id="t78" style="font-size:11.05px;color:#005d9d;letter-spacing:0.543px;left:-495.5px;width:600px;text-align:right;top:1656.0px;margin-left:0.543px;">80 mm</div>
<div class="t" id="t79" style="font-size:11.05px;color:#005d9d;letter-spacing:0.761px;left:-495.5px;width:600px;text-align:right;top:1626.0px;margin-left:0.761px;">100 mm</div>
<div class="t" id="t80" style="font-size:11.05px;color:#005d9d;letter-spacing:0.761px;left:-495.5px;width:600px;text-align:right;top:1595.0px;margin-left:0.761px;">120 mm</div>
<div class="t" id="t81" style="font-size:11.05px;color:#005d9d;letter-spacing:0.761px;left:-495.5px;width:600px;text-align:right;top:1565.0px;margin-left:0.761px;">140 mm</div>
<div class="t" id="t82" style="font-size:11.05px;color:#005d9d;letter-spacing:0.761px;left:-495.5px;width:600px;text-align:right;top:1534.0px;margin-left:0.761px;">160 mm</div>
<div class="t" id="t83" style="font-size:11.05px;color:#005d9d;letter-spacing:0.761px;left:-495.5px;width:600px;text-align:right;top:1504.0px;margin-left:0.761px;">180 mm</div>
<div class="t" id="t84" style="font-size:12.06px;color:#005d9d;letter-spacing:0.390px;left:-161.2px;width:600px;text-align:center;top:1795.0px;text-indent:0.390px;">Sty</div>
<div class="t" id="t85" style="font-size:12.06px;color:#005d9d;letter-spacing:0.735px;left:-110.2px;width:600px;text-align:center;top:1795.0px;text-indent:0.735px;">Lut</div>
<div class="t" id="t86" style="font-size:12.06px;color:#005d9d;letter-spacing:1.275px;left:-58.7px;width:600px;text-align:center;top:1795.0px;text-indent:1.275px;">Mar</div>
<div class="t" id="t87" style="font-size:12.06px;color:#005d9d;letter-spacing:1.437px;left:-7.2px;width:600px;text-align:center;top:1795.0px;text-indent:1.437px;">Kwi</div>
<div class="t" id="t88" style="font-size:12.06px;color:#005d9d;letter-spacing:1.437px;left:44.3px;width:600px;text-align:center;top:1795.0px;text-indent:1.437px;">Maj</div>
<div class="t" id="t89" style="font-size:12.06px;color:#005d9d;letter-spacing:0.985px;left:95.3px;width:600px;text-align:center;top:1795.0px;text-indent:0.985px;">Cze</div>
<div class="t" id="t90" style="font-size:12.06px;color:#005d9d;letter-spacing:1.053px;left:146.8px;width:600px;text-align:center;top:1795.0px;text-indent:1.053px;">Lip</div>
<div class="t" id="t91" style="font-size:12.06px;color:#005d9d;letter-spacing:0.917px;left:197.8px;width:600px;text-align:center;top:1795.0px;text-indent:0.917px;">Sie</div>
<div class="t" id="t92" style="font-size:12.06px;color:#005d9d;letter-spacing:0.572px;left:249.7px;width:600px;text-align:center;top:1795.0px;text-indent:0.572px;">Wrz</div>
<div class="t" id="t93" style="font-size:12.06px;color:#005d9d;letter-spacing:1.302px;left:300.8px;width:600px;text-align:center;top:1795.0px;text-indent:1.302px;">Paź</div>
<div class="t" id="t94" style="font-size:12.06px;color:#005d9d;letter-spacing:0.870px;left:351.8px;width:600px;text-align:center;top:1795.0px;text-indent:0.870px;">Lis</div>
<div class="t" id="t95" style="font-size:12.06px;color:#005d9d;letter-spacing:1.120px;left:403.3px;width:600px;text-align:center;top:1795.0px;text-indent:1.120px;">Gru</div>
<div class="t" id="t96" style="font-size:13.44px;color:#005d9d;letter-spacing:0.287px;left:50.1px;top:1646.0px;transform-origin:0 0;transform:rotate(-90deg) translate(-50%,-11.38px);">Opady</div>
<div class="t" id="t97" style="font-size:12.35px;color:#005d9d;letter-spacing:0.996px;left:350.6px;top:1833.0px;">Suma opadów</div>
<div class="t" id="t98" style="font-size:19.11px;color:#005d9d;letter-spacing:0.219px;left:785.1px;top:1506.0px;">Średnia roczna suma opadów w</div>
<div class="t" id="t99" style="font-size:19.11px;color:#005d9d;letter-spacing:0.199px;left:784.2px;top:1530.0px;">miejscowości Rafael Freyre to około</div>
<div class="t" id="t100" style="font-size:19.11px;color:#005d9d;letter-spacing:0.277px;left:784.2px;top:1554.0px;">1125 mm. Różnica pomiędzy</div>
<div class="t" id="t101" style="font-size:19.11px;color:#005d9d;letter-spacing:0.292px;left:784.2px;top:1578.0px;">najwyższymi opadami (październik) i</div>
<div class="t" id="t102" style="font-size:19.11px;color:#005d9d;letter-spacing:0.273px;left:784.2px;top:1601.0px;">najniższymi (luty) wynosi 133 mm.</div>
<div class="t" id="t103" style="font-size:19.11px;color:#005d9d;letter-spacing:0.299px;left:784.2px;top:1649.0px;">Najwięcej opadów pojawia się w</div>
<div class="t" id="t104" style="font-size:19.11px;color:#005d9d;letter-spacing:0.234px;left:785.1px;top:1672.0px;">październiku, w tym okresie miesięczna</div>
<div class="t" id="t105" style="font-size:19.11px;color:#005d9d;letter-spacing:0.268px;left:785.1px;top:1696.0px;">suma opadów oscyluje wokół 165 mm, a</div>
<div class="t" id="t106" style="font-size:19.11px;color:#005d9d;letter-spacing:0.453px;left:785.1px;top:1720.0px;">prawdopodobieństwo ich wystąpienia</div>
<div class="t" id="t107" style="font-size:19.11px;color:#005d9d;letter-spacing:0.336px;left:786.0px;top:1743.0px;">wynosi około 47%. Natomiast najmniej</div>
<div class="t" id="t108" style="font-size:19.11px;color:#005d9d;letter-spacing:0.365px;left:785.1px;top:1767.0px;">opadów notuje się w lutym - średnio 32</div>
<div class="t" id="t109" style="font-size:19.11px;color:#005d9d;letter-spacing:0.258px;left:784.2px;top:1791.0px;">mm, a szanse na wystąpienie opadów</div>
<div class="t" id="t110" style="font-size:19.11px;color:#005d9d;letter-spacing:-0.114px;left:786.0px;top:1814.0px;">wynoszą 8%.</div>
<div class="t" id="t111" style="font-size:15.70px;color:#fff;font-weight:700;letter-spacing:0.101px;left:88.6px;width:600px;text-align:center;top:1879.0px;text-indent:0.101px;">SZANSA OPADÓW</div>
<div class="t" id="t112" style="font-size:17.73px;color:#fff;font-weight:700;letter-spacing:0.354px;left:-234.4px;width:600px;text-align:center;top:1959.0px;text-indent:0.354px;">14%</div>
<div class="t" id="t113" style="font-size:12.50px;color:#005d9d;font-weight:700;letter-spacing:-0.562px;left:-233.5px;width:600px;text-align:center;top:1999.0px;text-indent:-0.562px;transform:scaleX(0.8676);">STY</div>
<div class="t" id="t114" style="font-size:17.73px;color:#fff;font-weight:700;letter-spacing:0.367px;left:-175.6px;width:600px;text-align:center;top:1959.0px;text-indent:0.367px;">8%</div>
<div class="t" id="t115" style="font-size:12.50px;color:#005d9d;font-weight:700;letter-spacing:-0.562px;left:-175.6px;width:600px;text-align:center;top:1999.0px;text-indent:-0.562px;transform:scaleX(0.8698);">LUT</div>
<div class="t" id="t116" style="font-size:17.73px;color:#fff;font-weight:700;letter-spacing:1.338px;left:-117.6px;width:600px;text-align:center;top:1959.0px;text-indent:1.338px;">11%</div>
<div class="t" id="t117" style="font-size:12.50px;color:#005d9d;font-weight:700;letter-spacing:-0.562px;left:-117.6px;width:600px;text-align:center;top:1999.0px;text-indent:-0.562px;transform:scaleX(0.8440);">MAR</div>
<div class="t" id="t118" style="font-size:17.73px;color:#fff;font-weight:700;letter-spacing:0.854px;left:-59.2px;width:600px;text-align:center;top:1959.0px;text-indent:0.854px;">16%</div>
<div class="t" id="t119" style="font-size:12.50px;color:#005d9d;font-weight:700;letter-spacing:-0.562px;left:-58.8px;width:600px;text-align:center;top:1999.0px;text-indent:-0.562px;transform:scaleX(0.9158);">KWI</div>
<div class="t" id="t120" style="font-size:17.73px;color:#fff;font-weight:700;letter-spacing:0.354px;left:0.1px;width:600px;text-align:center;top:1959.0px;text-indent:0.354px;">36%</div>
<div class="t" id="t121" style="font-size:12.50px;color:#005d9d;font-weight:700;letter-spacing:-0.562px;left:0.6px;width:600px;text-align:center;top:1999.0px;text-indent:-0.562px;transform:scaleX(0.8785);">MAJ</div>
<div class="t" id="t122" style="font-size:17.73px;color:#fff;font-weight:700;letter-spacing:-0.146px;left:59.0px;width:600px;text-align:center;top:1959.0px;text-indent:-0.146px;">40%</div>
<div class="t" id="t123" style="font-size:12.50px;color:#005d9d;font-weight:700;letter-spacing:-0.562px;left:58.5px;width:600px;text-align:center;top:1999.0px;text-indent:-0.562px;transform:scaleX(0.8554);">CZE</div>
<div class="t" id="t124" style="font-size:17.73px;color:#fff;font-weight:700;letter-spacing:0.354px;left:117.4px;width:600px;text-align:center;top:1959.0px;text-indent:0.354px;">35%</div>
<div class="t" id="t125" style="font-size:12.50px;color:#005d9d;font-weight:700;letter-spacing:-0.562px;left:116.9px;width:600px;text-align:center;top:1999.0px;text-indent:-0.562px;transform:scaleX(0.8614);">LIP</div>
<div class="t" id="t126" style="font-size:17.73px;color:#fff;font-weight:700;letter-spacing:-0.146px;left:175.8px;width:600px;text-align:center;top:1959.0px;text-indent:-0.146px;">36%</div>
<div class="t" id="t127" style="font-size:12.50px;color:#005d9d;font-weight:700;letter-spacing:-0.562px;left:175.3px;width:600px;text-align:center;top:1999.0px;text-indent:-0.562px;transform:scaleX(0.8486);">SIE</div>
<div class="t" id="t128" style="font-size:17.73px;color:#fff;font-weight:700;letter-spacing:-0.146px;left:234.2px;width:600px;text-align:center;top:1959.0px;text-indent:-0.146px;">43%</div>
<div class="t" id="t129" style="font-size:12.50px;color:#005d9d;font-weight:700;letter-spacing:-0.562px;left:234.2px;width:600px;text-align:center;top:1999.0px;text-indent:-0.562px;transform:scaleX(0.8456);">WRZ</div>
<div class="t" id="t130" style="font-size:17.73px;color:#fff;font-weight:700;letter-spacing:0.354px;left:292.6px;width:600px;text-align:center;top:1959.0px;text-indent:0.354px;">47%</div>
<div class="t" id="t131" style="font-size:12.50px;color:#005d9d;font-weight:700;letter-spacing:-0.562px;left:291.7px;width:600px;text-align:center;top:1999.0px;text-indent:-0.562px;transform:scaleX(0.8421);">PAŹ</div>
<div class="t" id="t132" style="font-size:17.73px;color:#fff;font-weight:700;letter-spacing:0.354px;left:351.0px;width:600px;text-align:center;top:1959.0px;text-indent:0.354px;">22%</div>
<div class="t" id="t133" style="font-size:12.50px;color:#005d9d;font-weight:700;letter-spacing:-0.562px;left:350.5px;width:600px;text-align:center;top:1999.0px;text-indent:-0.562px;transform:scaleX(0.8614);">LIS</div>
<div class="t" id="t134" style="font-size:17.73px;color:#fff;font-weight:700;letter-spacing:1.338px;left:409.0px;width:600px;text-align:center;top:1959.0px;text-indent:1.338px;">11%</div>
<div class="t" id="t135" style="font-size:12.50px;color:#005d9d;font-weight:700;letter-spacing:-0.562px;left:409.4px;width:600px;text-align:center;top:1999.0px;text-indent:-0.562px;transform:scaleX(0.8558);">GRU</div>
<div class="t" id="t136" style="font-size:19.33px;color:#005d9d;font-weight:700;letter-spacing:-0.698px;left:785.1px;top:1893.0px;">ROCZNE OPADY WEDŁUG TYPU</div>
<div class="t" id="t137" style="font-size:19.11px;color:#005d9d;letter-spacing:-0.391px;left:785.1px;top:1926.0px;">• Deszcz: 100%</div>
<div class="t" id="t138" style="font-size:19.11px;color:#005d9d;letter-spacing:-0.447px;left:785.1px;top:1955.0px;">• Śnieg: 0%</div>
<div class="t" id="t139" style="font-size:16.42px;color:#b1dcff;font-weight:700;letter-spacing:0.676px;left:185.5px;top:2104.0px;">CC BY-ND 4.0</div>
<div class="t" id="t140" style="font-size:24.27px;color:#fff;font-weight:700;letter-spacing:-1.092px;left:981.6px;top:2100.0px;transform-origin:0 0;transform:scaleX(0.9281);">METEOATLAS.PL</div>
<div id="bd"></div>
</div></body></html>
